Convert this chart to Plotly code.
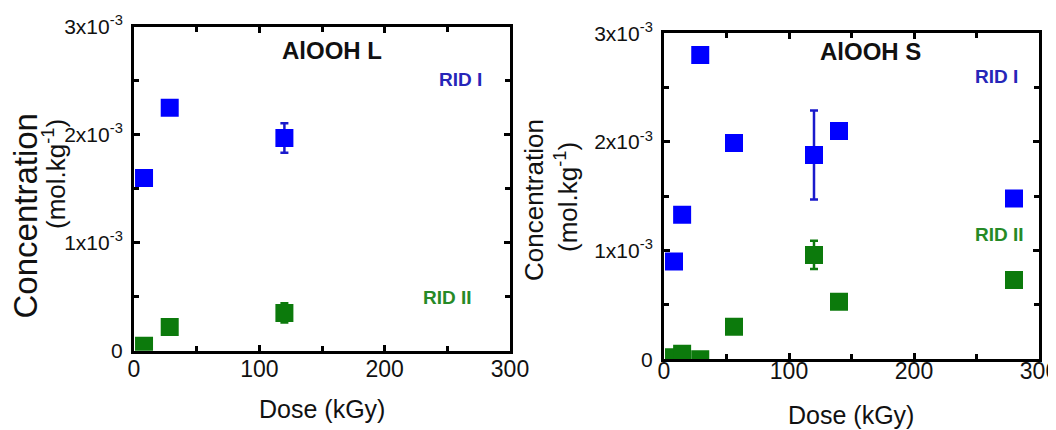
import plotly.graph_objects as go

# ---- data ----
dose_L = [8, 28.5, 120]
rid1_L = [1.60e-3, 2.25e-3, 1.97e-3]
rid1_L_err = [0, 0, 0.136e-3]
rid2_L = [0.045e-3, 0.22e-3, 0.35e-3]
rid2_L_err = [0, 0, 0.09e-3]

dose_S = [8, 14.5, 29, 56, 120, 140, 280]
rid1_S = [0.90e-3, 1.33e-3, 2.80e-3, 1.99e-3, 1.88e-3, 2.10e-3, 1.48e-3]
rid1_S_err = [0, 0, 0, 0, 0.41e-3, 0, 0]
rid2_S = [0.02e-3, 0.05e-3, 0.0, 0.30e-3, 0.96e-3, 0.53e-3, 0.73e-3]
rid2_S_err = [0, 0, 0, 0, 0.13e-3, 0, 0]

x_tickvals = [0, 100, 200, 300]
x_ticktext = ["0", "100", "200", "300"]
y_tickvals = [0, 1e-3, 2e-3, 3e-3]
y_ticktext = ["0", "1x10<sup>-3</sup>", "2x10<sup>-3</sup>", "3x10<sup>-3</sup>"]

# page body has an 8px margin: the figure is drawn at (8, 8) in the window
OFF = 8
W, H = 1048, 422
FONT = "Liberation Sans, Arial, sans-serif"
BLUE = "#0000ff"
BLUE_ERR = "#1a1acc"
GREEN = "#0c7a0c"
BLUE_TXT = "#2626b8"
GREEN_TXT = "#268a26"

fig = go.Figure()

def add_series(x, y, err, color, ecolor, xa, ya):
    fig.add_trace(go.Scatter(
        x=x, y=y, mode="markers",
        marker=dict(symbol="square", size=18, color=color, line=dict(width=0)),
        error_y=dict(type="data", array=err, visible=True, color=ecolor,
                     thickness=2.5, width=4),
        xaxis=xa, yaxis=ya, showlegend=False, hoverinfo="skip"))

add_series(dose_L, rid1_L, rid1_L_err, BLUE, BLUE_ERR, "x", "y")
add_series(dose_L, rid2_L, rid2_L_err, GREEN, GREEN, "x", "y")
add_series(dose_S, rid1_S, rid1_S_err, BLUE, BLUE_ERR, "x2", "y2")
add_series(dose_S, rid2_S, rid2_S_err, GREEN, GREEN, "x2", "y2")

def px2x(px):
    return (px - OFF) / W

def py2y(py):
    return 1 - (py - OFF) / H

common_x = dict(range=[0, 300], tickvals=x_tickvals, ticktext=x_ticktext,
                showline=True, linewidth=3, linecolor="black", mirror="ticks",
                ticks="inside", ticklen=6, tickwidth=2.5, tickcolor="black",
                showgrid=False, zeroline=False, automargin=False,
                ticklabeloverflow="allow",
                minor=dict(ticks="inside", ticklen=5, tickwidth=2.5, dtick=50,
                           tickcolor="black", showgrid=False),
                tickfont=dict(family=FONT, size=23, color="#111"))
common_y = dict(range=[0, 3e-3], tickvals=y_tickvals, ticktext=y_ticktext,
                showline=True, linewidth=3, linecolor="black", mirror="ticks",
                ticks="inside", ticklen=6, tickwidth=2.5, tickcolor="black",
                showgrid=False, zeroline=False, automargin=False,
                ticklabeloverflow="allow",
                minor=dict(ticks="inside", ticklen=5, tickwidth=2.5, dtick=0.5e-3,
                           tickcolor="black", showgrid=False),
                tickfont=dict(family=FONT, size=21, color="#111"))

fig.update_layout(
    width=W, height=H, margin=dict(l=0, r=0, t=0, b=0, pad=0, autoexpand=False),
    paper_bgcolor="white", plot_bgcolor="white",
    xaxis=dict(domain=[px2x(134), px2x(510)], anchor="y", ticklabelstandoff=-4, **common_x),
    yaxis=dict(domain=[py2y(350.7), py2y(26.7)], anchor="x", ticklabelstandoff=4, **common_y),
    xaxis2=dict(domain=[px2x(664), px2x(1039)], anchor="y2", ticklabelstandoff=-11, **common_x),
    yaxis2=dict(domain=[py2y(359.3), py2y(33.3)], anchor="x2", ticklabelstandoff=4, **common_y),
)

def ann(text, px, py, size, color="#111", bold=False, angle=0):
    if bold:
        text = "<b>" + text + "</b>"
    fig.add_annotation(text=text, xref="paper", yref="paper",
                       x=px2x(px), y=py2y(py), xanchor="center", yanchor="middle",
                       showarrow=False, textangle=angle,
                       font=dict(family=FONT, size=size, color=color))

# panel titles
ann("AlOOH L", 331.5, 50, 24, "#111", True)
ann("AlOOH S", 870, 52, 24, "#111", True)
# series labels
ann("RID I", 460.5, 79.5, 19, BLUE_TXT, True)
ann("RID II", 447, 297, 19, GREEN_TXT, True)
ann("RID I", 996.5, 77, 19, BLUE_TXT, True)
ann("RID II", 999, 235, 19, GREEN_TXT, True)
# axis titles
ann("Dose (kGy)", 322, 409, 25)
ann("Dose (kGy)", 851, 415, 25)
ann("Concentration", 25, 216.5, 33, angle=-90)
ann("(mol.kg<sup>-1</sup>)", 55, 174, 26, angle=-90)
ann("Concentration", 534, 200, 26, angle=-90)
ann("(mol.kg<sup>-1</sup>)", 566, 197, 26, angle=-90)

fig.write_html("out.html")
